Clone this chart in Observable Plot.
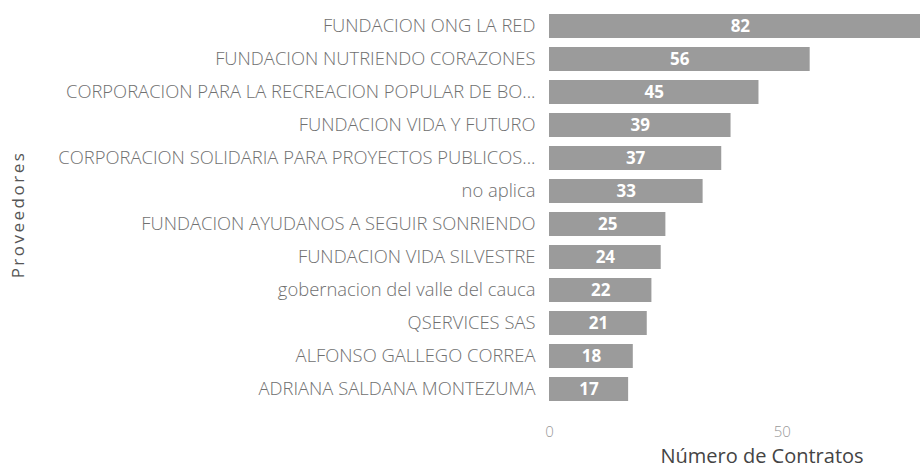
<!DOCTYPE html>
<html><head><meta charset="utf-8">
<script src="https://cdn.jsdelivr.net/npm/d3@7"></script>
<script src="https://cdn.jsdelivr.net/npm/@observablehq/plot@0.6"></script>
<style>body{margin:0;background:#fff}</style>
</head><body><div id="chart"></div>
<script>
const proveedores = [
  "FUNDACION ONG LA RED",
  "FUNDACION NUTRIENDO CORAZONES",
  "CORPORACION PARA LA RECREACION POPULAR DE BO...",
  "FUNDACION VIDA Y FUTURO",
  "CORPORACION SOLIDARIA PARA PROYECTOS PUBLICOS...",
  "no aplica",
  "FUNDACION AYUDANOS A SEGUIR SONRIENDO",
  "FUNDACION VIDA SILVESTRE",
  "gobernacion del valle del cauca",
  "QSERVICES SAS",
  "ALFONSO GALLEGO CORREA",
  "ADRIANA SALDANA MONTEZUMA"
];
const contratos = [82, 56, 45, 39, 37, 33, 25, 24, 22, 21, 18, 17];
const xTicks = [0, 50];
const data = proveedores.map((p, i) => ({p, v: contratos[i]}));

const chart = Plot.plot({
  width: 920, height: 471,
  marginLeft: 549, marginRight: 0, marginTop: 7, marginBottom: 62,
  style: {fontFamily: "'Open Sans', sans-serif", background: "#fff"},
  x: {domain: [0, 79.7], axis: null},
  y: {domain: proveedores, paddingInner: 0.27, paddingOuter: 0.135, axis: null},
  marks: [
    Plot.barX(data, {x: "v", y: "p", fill: "#9b9b9b", clip: true}),
    Plot.text(data, {x: d => d.v / 2, y: "p", text: d => String(d.v), fill: "#fff", fontWeight: "bold", fontSize: 17}),
    Plot.axisY({tickSize: 0, tickPadding: 14, fontSize: 18.4, color: "#707070", fontWeight: 300, label: null}),
    Plot.axisX({ticks: xTicks, tickSize: 0, tickPadding: 17, fontSize: 15, color: "#999", fontWeight: 300, label: null}),
    Plot.text(["Proveedores"], {frameAnchor: "left", textAnchor: "middle", lineAnchor: "middle", rotate: -90, dx: -531, dy: 6, fontSize: 17, fill: "#555"}),
    Plot.text(["Número de Contratos"], {frameAnchor: "bottom", lineAnchor: "middle", dx: 27, dy: 47, fontSize: 20, fill: "#444"})
  ]
});
document.getElementById("chart").append(chart);
chart.querySelectorAll("text").forEach(t => { if (t.textContent === "Proveedores") t.setAttribute("letter-spacing", "2.5"); });
</script></body></html>
